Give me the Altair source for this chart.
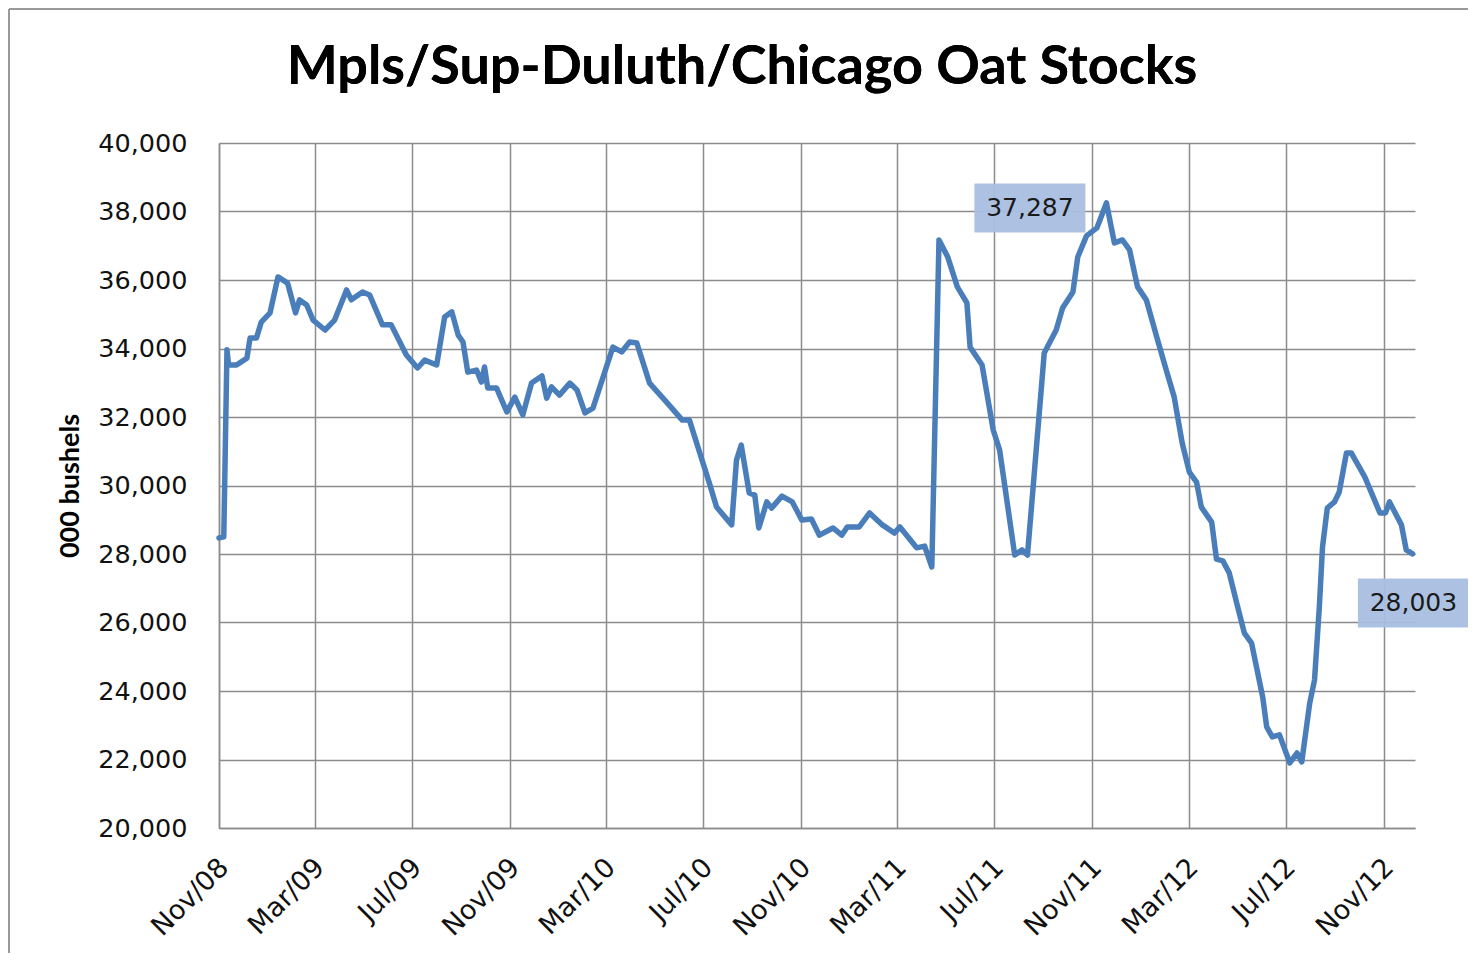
import altair as alt
import pandas as pd

dates = ["2008-11-01", "2008-11-07", "2008-11-11", "2008-11-13", "2008-11-23", "2008-12-06", "2008-12-10", "2008-12-18", "2008-12-24", "2009-01-04",
         "2009-01-14", "2009-01-26", "2009-02-05", "2009-02-10", "2009-02-19", "2009-02-27", "2009-03-14", "2009-03-26", "2009-04-10", "2009-04-16",
         "2009-04-30", "2009-05-09", "2009-05-25", "2009-06-05", "2009-06-24", "2009-07-08", "2009-07-17", "2009-08-01", "2009-08-11", "2009-08-20",
         "2009-08-28", "2009-09-03", "2009-09-09", "2009-09-20", "2009-09-26", "2009-09-30", "2009-10-04", "2009-10-15", "2009-10-28", "2009-11-07",
         "2009-11-17", "2009-11-28", "2009-12-11", "2009-12-17", "2009-12-23", "2010-01-02", "2010-01-15", "2010-01-24", "2010-02-03", "2010-02-13",
         "2010-03-10", "2010-03-21", "2010-03-31", "2010-04-09", "2010-04-25", "2010-05-16", "2010-06-05", "2010-06-14", "2010-06-27", "2010-07-09",
         "2010-07-18", "2010-08-06", "2010-08-12", "2010-08-18", "2010-08-28", "2010-09-04", "2010-09-09", "2010-09-19", "2010-09-25", "2010-10-08",
         "2010-10-21", "2010-11-02", "2010-11-14", "2010-11-24", "2010-12-11", "2010-12-22", "2010-12-29", "2011-01-13", "2011-01-26", "2011-02-11",
         "2011-02-26", "2011-03-05", "2011-03-26", "2011-04-05", "2011-04-14", "2011-04-23", "2011-05-04", "2011-05-16", "2011-05-28", "2011-06-01",
         "2011-06-16", "2011-06-30", "2011-07-08", "2011-07-27", "2011-08-05", "2011-08-12", "2011-09-02", "2011-09-17", "2011-09-25", "2011-10-08",
         "2011-10-14", "2011-10-25", "2011-11-07", "2011-11-19", "2011-11-29", "2011-12-09", "2011-12-18", "2011-12-28", "2012-01-08", "2012-01-21",
         "2012-02-02", "2012-02-12", "2012-02-22", "2012-03-02", "2012-03-11", "2012-03-17", "2012-03-30", "2012-04-05", "2012-04-13", "2012-04-21",
         "2012-04-30", "2012-05-10", "2012-05-19", "2012-06-02", "2012-06-07", "2012-06-14", "2012-06-23", "2012-07-06", "2012-07-15", "2012-07-21",
         "2012-07-31", "2012-08-06", "2012-08-12", "2012-08-16", "2012-08-22", "2012-08-31", "2012-09-06", "2012-09-15", "2012-09-21", "2012-10-08",
         "2012-10-27", "2012-11-03", "2012-11-08", "2012-11-23", "2012-11-29", "2012-12-07"]

stocks = [28470, 28500, 33960, 33520, 33520, 33720, 34310, 34310, 34770, 35040,
          36090, 35910, 35040, 35420, 35270, 34830, 34540, 34830, 35710, 35420,
          35650, 35560, 34690, 34690, 33810, 33430, 33660, 33520, 34920, 35070,
          34390, 34190, 33310, 33370, 33020, 33460, 32850, 32850, 32150, 32580,
          32060, 32990, 33200, 32550, 32880, 32640, 32990, 32790, 32120, 32260,
          34040, 33900, 34190, 34160, 32990, 32440, 31910, 31910, 30950, 30070,
          29370, 28850, 30740, 31180, 29780, 29720, 28760, 29520, 29340, 29690,
          29520, 28990, 29020, 28550, 28760, 28550, 28790, 28790, 29200, 28850,
          28610, 28790, 28180, 28230, 27620, 37170, 36670, 35800, 35330, 34040,
          33520, 31620, 31040, 27970, 28120, 27970, 33870, 34540, 35180, 35650,
          36670, 37287, 37520, 38250, 37080, 37170, 36880, 35800, 35420, 34340,
          33370, 32580, 31240, 30390, 30100, 29370, 28930, 27850, 27800, 27450,
          26600, 25690, 25400, 23820, 22950, 22660, 22720, 21900, 22190, 21930,
          23650, 24320, 26450, 28200, 29340, 29520, 29810, 30950, 30950, 30250,
          29200, 29200, 29520, 28850, 28120, 28003]

tick_months = [(2008, 11), (2009, 3), (2009, 7), (2009, 11), (2010, 3), (2010, 7), (2010, 11),
               (2011, 3), (2011, 7), (2011, 11), (2012, 3), (2012, 7), (2012, 11)]
y_ticks = [20000, 22000, 24000, 26000, 28000, 30000, 32000, 34000, 36000, 38000, 40000]

label_dates = ["2011-08-15", "2012-12-08"]
label_values = [38100, 26570]
label_texts = ["37,287", "28,003"]

title_text = "Mpls/Sup-Duluth/Chicago Oat Stocks"
y_title = "000 bushels"

df = pd.DataFrame({"date": pd.to_datetime(dates), "stocks": stocks})
ann = pd.DataFrame({"date": pd.to_datetime(label_dates), "stocks": label_values, "label": label_texts})

W, H = 1196, 685
GRID = "#8c8c8c"

x_scale = alt.Scale(domain=[alt.DateTime(year=2008, month=11, date=1),
                            alt.DateTime(year=2012, month=12, date=10)], nice=False)
y_scale = alt.Scale(domain=[20000, 40000], nice=False, zero=False)

x_enc = alt.X("date:T", scale=x_scale,
              axis=alt.Axis(values=[alt.DateTime(year=y, month=m, date=1) for y, m in tick_months],
                            format="%b/%y", labelAngle=-45, labelAlign="right", labelBaseline="middle",
                            labelPadding=35, labelOffset=5, title=None, grid=True, ticks=False, tickSize=0,
                            labelFontSize=27, labelFont="DejaVu Sans", labelColor="#111",
                            domainColor=GRID, domainWidth=1.5, gridColor=GRID, gridWidth=1.5,
                            labelOverlap=False, labelBound=False, labelFlush=False))
y_enc = alt.Y("stocks:Q", scale=y_scale,
              axis=alt.Axis(values=y_ticks, format=",.0f", title=y_title, grid=True, ticks=False, tickSize=0,
                            labelPadding=32, labelFontSize=25.5, labelFont="DejaVu Sans", labelColor="#111",
                            titleFont="Lato", titleFontSize=27, titleFontWeight="bold", titleColor="#000",
                            titleAngle=270, titleX=-149, titleY=H / 2, titleAlign="center", titleBaseline="middle",
                            domainColor=GRID, domainWidth=1.5, gridColor=GRID, gridWidth=1.5,
                            labelOverlap=False))

line = alt.Chart(df).mark_line(color="#4a7ebb", strokeWidth=5.5, strokeJoin="round", strokeCap="round").encode(
    x=x_enc, y=y_enc)

boxes = alt.Chart(ann).mark_rect(width=111, height=49, color="#a9bfe0", opacity=0.95).encode(
    x=alt.X("date:T", scale=x_scale), y=alt.Y("stocks:Q", scale=y_scale))
texts = alt.Chart(ann).mark_text(font="DejaVu Sans", fontSize=25, color="#1a1a1a", baseline="middle").encode(
    x=alt.X("date:T", scale=x_scale), y=alt.Y("stocks:Q", scale=y_scale), text="label:N")

title = alt.Chart(ann).mark_text(font="Lato", fontSize=54, fontWeight="bold", color="#000", baseline="middle").encode(
    x=alt.value(742 - 219), y=alt.value(68 - 143), text=alt.value(title_text))

border_left = alt.Chart(ann).mark_rule(color="#9a9a9a", strokeWidth=2).encode(
    x=alt.value(-210), y=alt.value(-134), y2=alt.value(H + 125))
border_top = alt.Chart(ann).mark_rule(color="#9a9a9a", strokeWidth=2).encode(
    x=alt.value(-210), x2=alt.value(W + 53), y=alt.value(-134))

chart = alt.layer(line, boxes, texts, title, border_left, border_top).properties(
    width=W, height=H,
    autosize=alt.AutoSizeParams(type="none"),
    padding={"left": 211, "top": 135, "right": 53, "bottom": 125},
    background="white",
).configure_view(stroke="transparent")

chart.save("out.html", embed_options={"renderer": "svg", "actions": False})
